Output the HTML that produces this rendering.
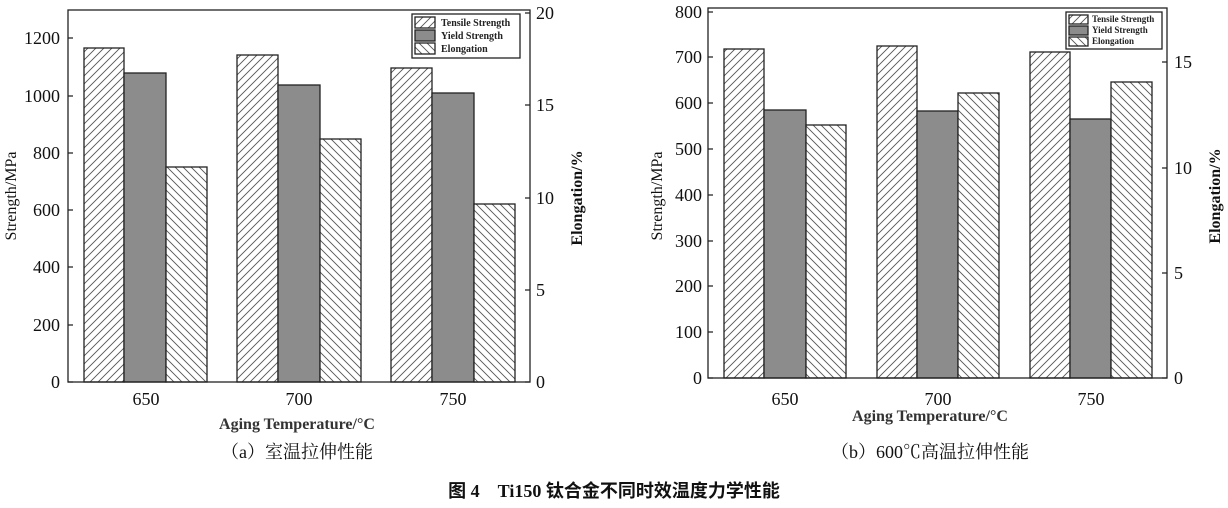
<!DOCTYPE html>
<html><head><meta charset="utf-8"><style>body{margin:0;background:#fff}svg{display:block;font-family:"Liberation Serif","Noto Serif CJK SC",serif}.cj{font-family:"Liberation Serif","Noto Serif CJK SC",serif}.bt{font-family:"Liberation Serif","Noto Sans CJK SC",sans-serif}</style></head><body>
<svg width="1228" height="508" xmlns="http://www.w3.org/2000/svg">
<defs>
<pattern id="f" width="8" height="8" patternUnits="userSpaceOnUse"><rect width="8" height="8" fill="#fff"/><path d="M-2,2 L2,-2 M0,8 L8,0 M6,10 L10,6" stroke="#555" stroke-width="0.9"/></pattern>
<pattern id="b" width="8" height="8" patternUnits="userSpaceOnUse"><rect width="8" height="8" fill="#fff"/><path d="M-2,6 L2,10 M0,0 L8,8 M6,-2 L10,2" stroke="#555" stroke-width="0.9"/></pattern>
</defs>
<g stroke="#222" stroke-width="1.3">
<rect x="84" y="48" width="40" height="334" fill="url(#f)"/>
<rect x="124" y="73" width="42" height="309" fill="#8c8c8c"/>
<rect x="166" y="167" width="41" height="215" fill="url(#b)"/>
<rect x="237" y="55" width="41" height="327" fill="url(#f)"/>
<rect x="278" y="85" width="42" height="297" fill="#8c8c8c"/>
<rect x="320" y="139" width="41" height="243" fill="url(#b)"/>
<rect x="391" y="68" width="41" height="314" fill="url(#f)"/>
<rect x="432" y="93" width="42" height="289" fill="#8c8c8c"/>
<rect x="474" y="204" width="41" height="178" fill="url(#b)"/>
<rect x="68" y="10" width="462" height="372" fill="none"/>
<rect x="724" y="49" width="40" height="329" fill="url(#f)"/>
<rect x="764" y="110" width="42" height="268" fill="#8c8c8c"/>
<rect x="806" y="125" width="40" height="253" fill="url(#b)"/>
<rect x="877" y="46" width="40" height="332" fill="url(#f)"/>
<rect x="917" y="111" width="41" height="267" fill="#8c8c8c"/>
<rect x="958" y="93" width="41" height="285" fill="url(#b)"/>
<rect x="1030" y="52" width="40" height="326" fill="url(#f)"/>
<rect x="1070" y="119" width="41" height="259" fill="#8c8c8c"/>
<rect x="1111" y="82" width="41" height="296" fill="url(#b)"/>
<rect x="708" y="8" width="459" height="370" fill="none"/>
<rect x="412" y="14" width="108" height="44" fill="#fff"/>
<rect x="415" y="17" width="20" height="11" fill="url(#f)"/>
<rect x="415" y="30" width="20" height="11" fill="#8c8c8c"/>
<rect x="415" y="43" width="20" height="11" fill="url(#b)"/>
<rect x="1066" y="12" width="96" height="37" fill="#fff"/>
<rect x="1069" y="15" width="19" height="9" fill="url(#f)"/>
<rect x="1069" y="26" width="19" height="9" fill="#8c8c8c"/>
<rect x="1069" y="37" width="19" height="9" fill="url(#b)"/>
</g>
<g stroke="#222" stroke-width="1.2">
<path d="M68,382h5M68,325h5M68,267h5M68,210h5M68,153h5M68,96h5M68,38h5"/>
<path d="M530,382h-5M530,290h-5M530,198h-5M530,105h-5M530,13h-5"/>
<path d="M708,378h5M708,332h5M708,286h5M708,241h5M708,195h5M708,149h5M708,103h5M708,57h5M708,12h5"/>
<path d="M1167,378h-5M1167,273h-5M1167,168h-5M1167,62h-5"/>
</g>
<g font-size="10" font-weight="bold" fill="#222">
<text x="441" y="26">Tensile Strength</text><text x="441" y="39">Yield Strength</text><text x="441" y="52">Elongation</text>
<text x="1092" y="22" font-size="9">Tensile Strength</text><text x="1092" y="33" font-size="9">Yield Strength</text><text x="1092" y="44" font-size="9">Elongation</text>
</g>
<g font-size="18" fill="#111" text-anchor="end">
<text x="60" y="388">0</text><text x="60" y="331">200</text><text x="60" y="273">400</text><text x="60" y="216">600</text><text x="60" y="159">800</text><text x="60" y="102">1000</text><text x="60" y="44">1200</text>
<text x="702" y="384">0</text><text x="702" y="338">100</text><text x="702" y="292">200</text><text x="702" y="247">300</text><text x="702" y="201">400</text><text x="702" y="155">500</text><text x="702" y="109">600</text><text x="702" y="63">700</text><text x="702" y="18">800</text>
</g>
<g font-size="18" fill="#111">
<text x="536" y="388">0</text><text x="536" y="296">5</text><text x="536" y="204">10</text><text x="536" y="111">15</text><text x="536" y="19">20</text>
<text x="1174" y="384">0</text><text x="1174" y="279">5</text><text x="1174" y="174">10</text><text x="1174" y="68">15</text>
</g>
<g font-size="18" fill="#111" text-anchor="middle">
<text x="146" y="405">650</text><text x="299" y="405">700</text><text x="453" y="405">750</text>
<text x="785" y="405">650</text><text x="938" y="405">700</text><text x="1091" y="405">750</text>
<text x="297" y="429" font-size="16" font-weight="bold" fill="#333">Aging Temperature/°C</text>
<text x="930" y="421" font-size="16" font-weight="bold" fill="#333">Aging Temperature/°C</text>
<text class="cj" x="297" y="458">（a）室温拉伸性能</text>
<text class="cj" x="930" y="458">（b）600℃高温拉伸性能</text>
<text class="bt" x="614" y="497" font-weight="bold">图 4　Ti150 钛合金不同时效温度力学性能</text>
<text transform="translate(16,196) rotate(-90)" font-size="16">Strength/MPa</text>
<text transform="translate(582,198) rotate(-90)" font-size="16" font-weight="bold">Elongation/%</text>
<text transform="translate(662,196) rotate(-90)" font-size="16">Strength/MPa</text>
<text transform="translate(1220,196) rotate(-90)" font-size="16" font-weight="bold">Elongation/%</text>
</g>
</svg>
</body></html>
